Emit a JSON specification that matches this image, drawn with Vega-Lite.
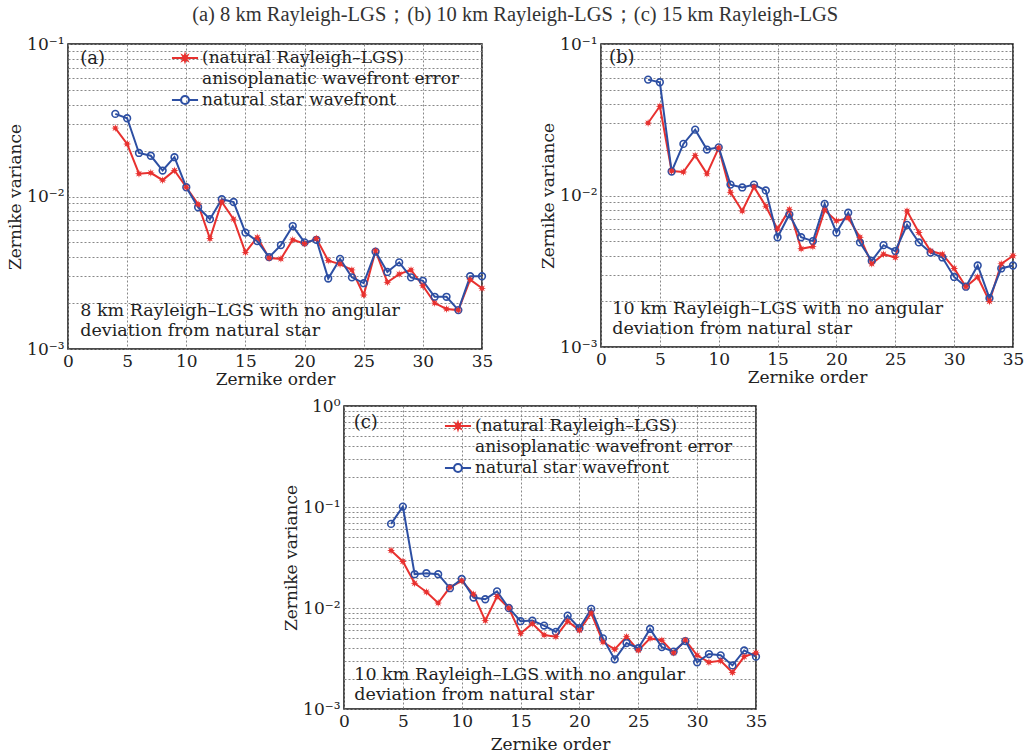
{
  "$schema": "https://vega.github.io/schema/vega-lite/v6.json",
  "title": {"text": "(a) 8 km Rayleigh-LGS；(b) 10 km Rayleigh-LGS；(c) 15 km Rayleigh-LGS", "fontSize": 20.5, "font": "Liberation Serif", "fontWeight": "normal", "color": "#333", "anchor": "middle", "offset": 9},
  "padding": {"left": 5, "right": 5, "top": 4, "bottom": 2},
  "datasets": {
    "zern": [
      {"panel": "a", "order": 4, "lgs": 0.0281, "star": 0.0348},
      {"panel": "a", "order": 5, "lgs": 0.0221, "star": 0.0326},
      {"panel": "a", "order": 6, "lgs": 0.0141, "star": 0.0193},
      {"panel": "a", "order": 7, "lgs": 0.0143, "star": 0.0185},
      {"panel": "a", "order": 8, "lgs": 0.0128, "star": 0.0148},
      {"panel": "a", "order": 9, "lgs": 0.0148, "star": 0.0181},
      {"panel": "a", "order": 10, "lgs": 0.0115, "star": 0.0115},
      {"panel": "a", "order": 11, "lgs": 0.0089, "star": 0.0085},
      {"panel": "a", "order": 12, "lgs": 0.0053, "star": 0.0071},
      {"panel": "a", "order": 13, "lgs": 0.0092, "star": 0.0096},
      {"panel": "a", "order": 14, "lgs": 0.0071, "star": 0.0092},
      {"panel": "a", "order": 15, "lgs": 0.0043, "star": 0.0058},
      {"panel": "a", "order": 16, "lgs": 0.0054, "star": 0.0051},
      {"panel": "a", "order": 17, "lgs": 0.00395, "star": 0.0040},
      {"panel": "a", "order": 18, "lgs": 0.0039, "star": 0.0048},
      {"panel": "a", "order": 19, "lgs": 0.0052, "star": 0.0064},
      {"panel": "a", "order": 20, "lgs": 0.0049, "star": 0.0050},
      {"panel": "a", "order": 21, "lgs": 0.0053, "star": 0.0052},
      {"panel": "a", "order": 22, "lgs": 0.0038, "star": 0.0029},
      {"panel": "a", "order": 23, "lgs": 0.0036, "star": 0.0039},
      {"panel": "a", "order": 24, "lgs": 0.0033, "star": 0.00295},
      {"panel": "a", "order": 25, "lgs": 0.00226, "star": 0.0027},
      {"panel": "a", "order": 26, "lgs": 0.0044, "star": 0.00435},
      {"panel": "a", "order": 27, "lgs": 0.00274, "star": 0.0032},
      {"panel": "a", "order": 28, "lgs": 0.0031, "star": 0.0037},
      {"panel": "a", "order": 29, "lgs": 0.0033, "star": 0.00295},
      {"panel": "a", "order": 30, "lgs": 0.0026, "star": 0.0028},
      {"panel": "a", "order": 31, "lgs": 0.0020, "star": 0.0022},
      {"panel": "a", "order": 32, "lgs": 0.00183, "star": 0.0022},
      {"panel": "a", "order": 33, "lgs": 0.0018, "star": 0.0018},
      {"panel": "a", "order": 34, "lgs": 0.00285, "star": 0.0030},
      {"panel": "a", "order": 35, "lgs": 0.0025, "star": 0.0030},
      {"panel": "b", "order": 4, "lgs": 0.0301, "star": 0.0582},
      {"panel": "b", "order": 5, "lgs": 0.0388, "star": 0.0559},
      {"panel": "b", "order": 6, "lgs": 0.0145, "star": 0.0144},
      {"panel": "b", "order": 7, "lgs": 0.0143, "star": 0.0219},
      {"panel": "b", "order": 8, "lgs": 0.0184, "star": 0.0272},
      {"panel": "b", "order": 9, "lgs": 0.0139, "star": 0.0201},
      {"panel": "b", "order": 10, "lgs": 0.0206, "star": 0.0208},
      {"panel": "b", "order": 11, "lgs": 0.0105, "star": 0.0118},
      {"panel": "b", "order": 12, "lgs": 0.0079, "star": 0.0113},
      {"panel": "b", "order": 13, "lgs": 0.0114, "star": 0.0118},
      {"panel": "b", "order": 14, "lgs": 0.0085, "star": 0.0108},
      {"panel": "b", "order": 15, "lgs": 0.0060, "star": 0.0053},
      {"panel": "b", "order": 16, "lgs": 0.0081, "star": 0.0075},
      {"panel": "b", "order": 17, "lgs": 0.00445, "star": 0.0053},
      {"panel": "b", "order": 18, "lgs": 0.0046, "star": 0.0050},
      {"panel": "b", "order": 19, "lgs": 0.0080, "star": 0.0088},
      {"panel": "b", "order": 20, "lgs": 0.0068, "star": 0.0057},
      {"panel": "b", "order": 21, "lgs": 0.0071, "star": 0.0077},
      {"panel": "b", "order": 22, "lgs": 0.0053, "star": 0.0049},
      {"panel": "b", "order": 23, "lgs": 0.00354, "star": 0.0037},
      {"panel": "b", "order": 24, "lgs": 0.0041, "star": 0.0047},
      {"panel": "b", "order": 25, "lgs": 0.0039, "star": 0.0043},
      {"panel": "b", "order": 26, "lgs": 0.0079, "star": 0.0064},
      {"panel": "b", "order": 27, "lgs": 0.0057, "star": 0.0049},
      {"panel": "b", "order": 28, "lgs": 0.0043, "star": 0.0042},
      {"panel": "b", "order": 29, "lgs": 0.0041, "star": 0.0039},
      {"panel": "b", "order": 30, "lgs": 0.0033, "star": 0.0029},
      {"panel": "b", "order": 31, "lgs": 0.0025, "star": 0.0025},
      {"panel": "b", "order": 32, "lgs": 0.0029, "star": 0.00345},
      {"panel": "b", "order": 33, "lgs": 0.0020, "star": 0.0021},
      {"panel": "b", "order": 34, "lgs": 0.00354, "star": 0.0033},
      {"panel": "b", "order": 35, "lgs": 0.0040, "star": 0.00345},
      {"panel": "c", "order": 4, "lgs": 0.0371, "star": 0.068},
      {"panel": "c", "order": 5, "lgs": 0.0289, "star": 0.101},
      {"panel": "c", "order": 6, "lgs": 0.0176, "star": 0.0216},
      {"panel": "c", "order": 7, "lgs": 0.0144, "star": 0.0221},
      {"panel": "c", "order": 8, "lgs": 0.0112, "star": 0.0216},
      {"panel": "c", "order": 9, "lgs": 0.0160, "star": 0.0157},
      {"panel": "c", "order": 10, "lgs": 0.0186, "star": 0.0194},
      {"panel": "c", "order": 11, "lgs": 0.0137, "star": 0.0127},
      {"panel": "c", "order": 12, "lgs": 0.0075, "star": 0.0122},
      {"panel": "c", "order": 13, "lgs": 0.0130, "star": 0.0146},
      {"panel": "c", "order": 14, "lgs": 0.0100, "star": 0.0100},
      {"panel": "c", "order": 15, "lgs": 0.0056, "star": 0.0074},
      {"panel": "c", "order": 16, "lgs": 0.0070, "star": 0.0075},
      {"panel": "c", "order": 17, "lgs": 0.0054, "star": 0.0067},
      {"panel": "c", "order": 18, "lgs": 0.0052, "star": 0.0058},
      {"panel": "c", "order": 19, "lgs": 0.0074, "star": 0.0084},
      {"panel": "c", "order": 20, "lgs": 0.0060, "star": 0.0063},
      {"panel": "c", "order": 21, "lgs": 0.0089, "star": 0.0098},
      {"panel": "c", "order": 22, "lgs": 0.0046, "star": 0.0050},
      {"panel": "c", "order": 23, "lgs": 0.0039, "star": 0.0031},
      {"panel": "c", "order": 24, "lgs": 0.0052, "star": 0.0045},
      {"panel": "c", "order": 25, "lgs": 0.0038, "star": 0.0040},
      {"panel": "c", "order": 26, "lgs": 0.0050, "star": 0.0062},
      {"panel": "c", "order": 27, "lgs": 0.0048, "star": 0.0041},
      {"panel": "c", "order": 28, "lgs": 0.0036, "star": 0.0037},
      {"panel": "c", "order": 29, "lgs": 0.0048, "star": 0.0047},
      {"panel": "c", "order": 30, "lgs": 0.0034, "star": 0.0029},
      {"panel": "c", "order": 31, "lgs": 0.0029, "star": 0.0035},
      {"panel": "c", "order": 32, "lgs": 0.0030, "star": 0.0034},
      {"panel": "c", "order": 33, "lgs": 0.0023, "star": 0.0027},
      {"panel": "c", "order": 34, "lgs": 0.0033, "star": 0.0038},
      {"panel": "c", "order": 35, "lgs": 0.0036, "star": 0.0033}
    ]
  },
  "spacing": 8,
  "center": false,
  "vconcat": [
    {
      "spacing": 44,
      "hconcat": [
        {
          "width": 414, "height": 305,
          "data": {"name": "zern"},
          "transform": [{"filter": "datum.panel == 'a'"}, {"fold": ["lgs", "star"], "as": ["series", "variance"]}],
          "encoding": {
            "x": {"field": "order", "type": "quantitative", "scale": {"domain": [0, 35], "nice": false},
                  "axis": {"title": "Zernike order", "values": [0, 5, 10, 15, 20, 25, 30, 35]}},
            "y": {"field": "variance", "type": "quantitative", "scale": {"type": "log", "domain": [0.001, 0.1]},
                  "axis": {"title": "Zernike variance", "values": [0.001, 0.002, 0.003, 0.004, 0.005, 0.006, 0.007, 0.008, 0.009, 0.01, 0.02, 0.03, 0.04, 0.05, 0.06, 0.07, 0.08, 0.09, 0.1],
                           "labelExpr": "datum.value == 0.1 ? '10⁻¹' : datum.value == 0.01 ? '10⁻²' : datum.value == 0.001 ? '10⁻³' : ''"}},
            "color": {"field": "series", "type": "nominal",
                      "scale": {"domain": ["lgs", "lgs2", "star"], "range": ["#e8312f", "#ffffff", "#2d4fa3"]},
                      "legend": {"orient": "none", "legendX": 107, "legendY": 4,
                                 "labelExpr": "datum.value == 'lgs' ? '(natural Rayleigh–LGS)' : datum.value == 'lgs2' ? 'anisoplanatic wavefront error' : 'natural star wavefront'"}}
          },
          "layer": [
            {"mark": {"type": "line", "strokeWidth": 2}},
            {"transform": [{"filter": "datum.series == 'star'"}], "mark": {"type": "point", "filled": false, "size": 45, "strokeWidth": 1.6, "opacity": 1}},
            {"transform": [{"filter": "datum.series == 'lgs'"}], "mark": {"type": "point", "filled": true, "size": 64, "opacity": 1, "shape": "M1,0L0.42,0.17L0.71,0.71L0.17,0.42L0,1L-0.17,0.42L-0.71,0.71L-0.42,0.17L-1,0L-0.42,-0.17L-0.71,-0.71L-0.17,-0.42L0,-1L0.17,-0.42L0.71,-0.71L0.42,-0.17Z"}},
            {"transform": [{"filter": "false"}], "mark": {"type": "point", "filled": false, "strokeWidth": 2, "opacity": 1},
             "encoding": {"shape": {"field": "series", "type": "nominal",
                                    "scale": {"domain": ["lgs", "lgs2", "star"], "range": ["M-1.45,0H1.45M0.4,0L0.17,0.07L0.28,0.28L0.07,0.17L0,0.4L-0.07,0.17L-0.28,0.28L-0.17,0.07L-0.4,0L-0.17,-0.07L-0.28,-0.28L-0.07,-0.17L0,-0.4L0.07,-0.17L0.28,-0.28L0.17,-0.07Z", "M0,0", "M-1.45,0H-0.46M0.46,0H1.45M0.46,0A0.46,0.46 0 1,1 -0.46,0A0.46,0.46 0 1,1 0.46,0ZM0.42,0A0.42,0.42 0 1,0 -0.42,0A0.42,0.42 0 1,0 0.42,0Z"]}}}},
            {"transform": [{"filter": "datum.order == 4 && datum.series == 'lgs'"}], "mark": {"type": "text", "align": "left", "baseline": "middle", "fontSize": 18, "color": "#222"},
             "encoding": {"x": {"datum": 1.04}, "y": {"datum": 0.0798}, "text": {"value": "(a)"}, "color": {"value": "#222"}}},
            {"transform": [{"filter": "datum.order == 4 && datum.series == 'lgs'"}], "mark": {"type": "text", "align": "left", "baseline": "top", "fontSize": 17.5, "lineHeight": 20, "color": "#222"},
             "encoding": {"x": {"datum": 1.04}, "y": {"datum": 0.00203}, "text": {"value": ["8 km Rayleigh–LGS with no angular", "deviation from natural star"]}, "color": {"value": "#222"}}}
          ]
        },
        {
          "width": 412, "height": 303,
          "data": {"name": "zern"},
          "transform": [{"filter": "datum.panel == 'b'"}, {"fold": ["lgs", "star"], "as": ["series", "variance"]}],
          "encoding": {
            "x": {"field": "order", "type": "quantitative", "scale": {"domain": [0, 35], "nice": false},
                  "axis": {"title": "Zernike order", "values": [0, 5, 10, 15, 20, 25, 30, 35]}},
            "y": {"field": "variance", "type": "quantitative", "scale": {"type": "log", "domain": [0.001, 0.1]},
                  "axis": {"title": "Zernike variance", "values": [0.001, 0.002, 0.003, 0.004, 0.005, 0.006, 0.007, 0.008, 0.009, 0.01, 0.02, 0.03, 0.04, 0.05, 0.06, 0.07, 0.08, 0.09, 0.1],
                           "labelExpr": "datum.value == 0.1 ? '10⁻¹' : datum.value == 0.01 ? '10⁻²' : datum.value == 0.001 ? '10⁻³' : ''"}},
            "color": {"field": "series", "type": "nominal",
                      "scale": {"domain": ["lgs", "lgs2", "star"], "range": ["#e8312f", "#ffffff", "#2d4fa3"]},
                      "legend": {"orient": "none", "legendX": 77, "legendY": 7,
                                 "labelExpr": "datum.value == 'lgs' ? '(natural Rayleigh–LGS)' : datum.value == 'lgs2' ? 'anisoplanatic wavefront error' : 'natural star wavefront'"}}
          },
          "layer": [
            {"mark": {"type": "line", "strokeWidth": 2}},
            {"transform": [{"filter": "datum.series == 'star'"}], "mark": {"type": "point", "filled": false, "size": 45, "strokeWidth": 1.6, "opacity": 1}},
            {"transform": [{"filter": "datum.series == 'lgs'"}], "mark": {"type": "point", "filled": true, "size": 64, "opacity": 1, "shape": "M1,0L0.42,0.17L0.71,0.71L0.17,0.42L0,1L-0.17,0.42L-0.71,0.71L-0.42,0.17L-1,0L-0.42,-0.17L-0.71,-0.71L-0.17,-0.42L0,-1L0.17,-0.42L0.71,-0.71L0.42,-0.17Z"}},
            {"transform": [{"filter": "false"}], "mark": {"type": "point", "filled": false, "strokeWidth": 2, "opacity": 1},
             "encoding": {"shape": {"field": "series", "type": "nominal",
                                    "scale": {"domain": ["lgs", "lgs2", "star"], "range": ["M-1.45,0H1.45M0.4,0L0.17,0.07L0.28,0.28L0.07,0.17L0,0.4L-0.07,0.17L-0.28,0.28L-0.17,0.07L-0.4,0L-0.17,-0.07L-0.28,-0.28L-0.07,-0.17L0,-0.4L0.07,-0.17L0.28,-0.28L0.17,-0.07Z", "M0,0", "M-1.45,0H-0.46M0.46,0H1.45M0.46,0A0.46,0.46 0 1,1 -0.46,0A0.46,0.46 0 1,1 0.46,0ZM0.42,0A0.42,0.42 0 1,0 -0.42,0A0.42,0.42 0 1,0 0.42,0Z"]}}}},
            {"transform": [{"filter": "datum.order == 4 && datum.series == 'lgs'"}], "mark": {"type": "text", "align": "left", "baseline": "middle", "fontSize": 18, "color": "#222"},
             "encoding": {"x": {"datum": 0.68}, "y": {"datum": 0.0805}, "text": {"value": "(b)"}, "color": {"value": "#222"}}},
            {"transform": [{"filter": "datum.order == 4 && datum.series == 'lgs'"}], "mark": {"type": "text", "align": "left", "baseline": "top", "fontSize": 17.5, "lineHeight": 20, "color": "#222"},
             "encoding": {"x": {"datum": 0.96}, "y": {"datum": 0.00204}, "text": {"value": ["10 km Rayleigh–LGS with no angular", "deviation from natural star"]}, "color": {"value": "#222"}}}
          ]
        }
      ]
    },
    {
      "spacing": 0,
      "hconcat": [
        {
          "width": 212, "height": 10,
          "data": {"values": [{"order": 0}]},
          "view": {"stroke": "transparent"},
          "mark": {"type": "point", "opacity": 0},
          "encoding": {}
        },
        {
          "width": 412, "height": 303,
          "data": {"name": "zern"},
          "transform": [{"filter": "datum.panel == 'c'"}, {"fold": ["lgs", "star"], "as": ["series", "variance"]}],
          "encoding": {
            "x": {"field": "order", "type": "quantitative", "scale": {"domain": [0, 35], "nice": false},
                  "axis": {"title": "Zernike order", "values": [0, 5, 10, 15, 20, 25, 30, 35], "titlePadding": 7}},
            "y": {"field": "variance", "type": "quantitative", "scale": {"type": "log", "domain": [0.001, 1]},
                  "axis": {"title": "Zernike variance", "values": [0.001, 0.002, 0.003, 0.004, 0.005, 0.006, 0.007, 0.008, 0.009, 0.01, 0.02, 0.03, 0.04, 0.05, 0.06, 0.07, 0.08, 0.09, 0.1, 0.2, 0.3, 0.4, 0.5, 0.6, 0.7, 0.8, 0.9, 1],
                           "labelExpr": "datum.value == 1 ? '10⁰' : datum.value == 0.1 ? '10⁻¹' : datum.value == 0.01 ? '10⁻²' : datum.value == 0.001 ? '10⁻³' : ''"}},
            "color": {"field": "series", "type": "nominal",
                      "scale": {"domain": ["lgs", "lgs2", "star"], "range": ["#e8312f", "#ffffff", "#2d4fa3"]},
                      "legend": {"orient": "none", "legendX": 380, "legendY": 10,
                                 "labelExpr": "datum.value == 'lgs' ? '(natural Rayleigh–LGS)' : datum.value == 'lgs2' ? 'anisoplanatic wavefront error' : 'natural star wavefront'"}}
          },
          "layer": [
            {"mark": {"type": "line", "strokeWidth": 2}},
            {"transform": [{"filter": "datum.series == 'star'"}], "mark": {"type": "point", "filled": false, "size": 45, "strokeWidth": 1.6, "opacity": 1}},
            {"transform": [{"filter": "datum.series == 'lgs'"}], "mark": {"type": "point", "filled": true, "size": 64, "opacity": 1, "shape": "M1,0L0.42,0.17L0.71,0.71L0.17,0.42L0,1L-0.17,0.42L-0.71,0.71L-0.42,0.17L-1,0L-0.42,-0.17L-0.71,-0.71L-0.17,-0.42L0,-1L0.17,-0.42L0.71,-0.71L0.42,-0.17Z"}},
            {"transform": [{"filter": "false"}], "mark": {"type": "point", "filled": false, "strokeWidth": 2, "opacity": 1},
             "encoding": {"shape": {"field": "series", "type": "nominal",
                                    "scale": {"domain": ["lgs", "lgs2", "star"], "range": ["M-1.45,0H1.45M0.4,0L0.17,0.07L0.28,0.28L0.07,0.17L0,0.4L-0.07,0.17L-0.28,0.28L-0.17,0.07L-0.4,0L-0.17,-0.07L-0.28,-0.28L-0.07,-0.17L0,-0.4L0.07,-0.17L0.28,-0.28L0.17,-0.07Z", "M0,0", "M-1.45,0H-0.46M0.46,0H1.45M0.46,0A0.46,0.46 0 1,1 -0.46,0A0.46,0.46 0 1,1 0.46,0ZM0.42,0A0.42,0.42 0 1,0 -0.42,0A0.42,0.42 0 1,0 0.42,0Z"]}}}},
            {"transform": [{"filter": "datum.order == 4 && datum.series == 'lgs'"}], "mark": {"type": "text", "align": "left", "baseline": "middle", "fontSize": 18, "color": "#222"},
             "encoding": {"x": {"datum": 0.82}, "y": {"datum": 0.674}, "text": {"value": "(c)"}, "color": {"value": "#222"}}},
            {"transform": [{"filter": "datum.order == 4 && datum.series == 'lgs'"}], "mark": {"type": "text", "align": "left", "baseline": "top", "fontSize": 17.5, "lineHeight": 20, "color": "#222"},
             "encoding": {"x": {"datum": 0.88}, "y": {"datum": 0.00265}, "text": {"value": ["10 km Rayleigh–LGS with no angular", "deviation from natural star"]}, "color": {"value": "#222"}}}
          ]
        }
      ]
    }
  ],
  "resolve": {"scale": {"color": "independent", "shape": "independent"}},
  "config": {
    "font": "DejaVu Serif",
    "view": {"stroke": "#111", "strokeWidth": 1.5},
    "axis": {"labelFont": "DejaVu Serif", "labelFontSize": 17, "labelColor": "#222", "labelFlush": false, "labelOverlap": false,
             "titleFont": "DejaVu Serif", "titleFontSize": 17, "titleFontWeight": "normal", "titleColor": "#222",
             "gridColor": "#888", "gridDash": [2, 2], "gridWidth": 1, "gridOpacity": 1, "domain": false, "ticks": false, "labelPadding": 4, "titlePadding": 2},
    "legend": {"title": null, "padding": 0, "labelFont": "DejaVu Serif", "labelFontSize": 17, "labelColor": "#222", "labelLimit": 0, "symbolSize": 324, "labelOffset": 7, "rowPadding": 3, "symbolStrokeWidth": 1.8}
  }
}
